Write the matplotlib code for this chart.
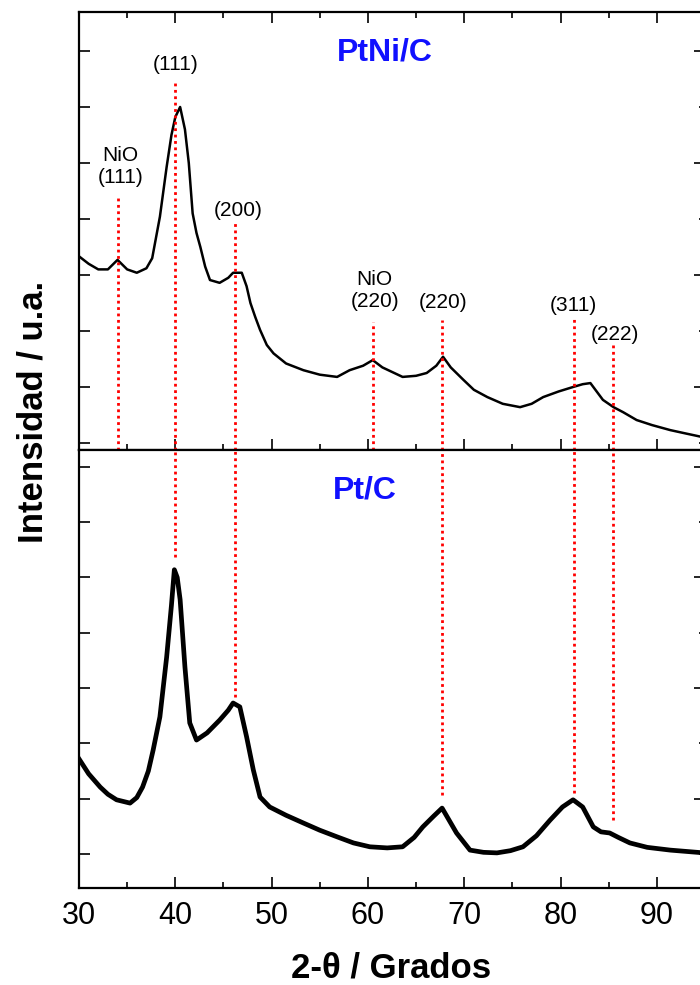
import matplotlib
matplotlib.use("Agg")
import matplotlib.pyplot as plt
from matplotlib.ticker import MultipleLocator, FixedLocator

plt.rcParams['font.family'] = ['Liberation Sans', 'DejaVu Sans']

# ---------------- data ----------------
two_theta_ptni = [30.1, 31.0, 32.0, 33.0, 34.0, 35.0, 36.0, 37.0, 37.6, 38.4, 39.1, 39.6,
                  40.0, 40.5, 41.0, 41.4, 41.8, 42.2, 42.6, 43.1, 43.6, 44.6, 45.5, 46.0,
                  46.9, 47.4, 47.8, 48.3, 48.8, 49.5, 50.2, 51.5, 53.3, 55.0, 56.8, 58.1,
                  59.5, 60.5, 61.5, 63.6, 65.0, 66.1, 67.1, 67.8, 68.6, 69.9, 71.0, 72.4,
                  74.0, 75.8, 77.0, 78.2, 79.8, 81.3, 82.3, 83.1, 84.4, 85.5, 86.5, 87.9,
                  89.5, 91.4, 93.0, 94.9]
int_ptni = [3.32, 3.20, 3.10, 3.10, 3.27, 3.10, 3.04, 3.12, 3.30, 4.04, 4.93, 5.50,
            5.82, 6.00, 5.60, 5.00, 4.10, 3.75, 3.50, 3.15, 2.91, 2.86, 2.95, 3.04,
            3.04, 2.80, 2.50, 2.25, 2.02, 1.75, 1.60, 1.42, 1.30, 1.22, 1.18, 1.30,
            1.38, 1.48, 1.35, 1.18, 1.20, 1.25, 1.38, 1.54, 1.35, 1.13, 0.95, 0.82,
            0.70, 0.64, 0.70, 0.82, 0.92, 1.00, 1.05, 1.07, 0.77, 0.64, 0.55, 0.41,
            0.32, 0.23, 0.17, 0.10]

two_theta_pt = [30.0, 31.0, 32.2, 33.0, 33.9, 35.3, 36.0, 36.6, 37.2, 37.7, 38.4, 39.1,
                39.6, 39.9, 40.2, 40.5, 41.0, 41.5, 42.2, 43.3, 44.6, 45.5, 46.0, 46.7,
                47.4, 48.1, 48.8, 49.8, 51.5, 53.3, 55.0, 56.8, 58.5, 60.2, 62.0, 63.6,
                64.8, 65.7, 66.8, 67.7, 68.4, 69.2, 70.6, 72.0, 73.4, 74.8, 76.1, 77.5,
                78.9, 80.2, 81.3, 82.3, 83.4, 84.2, 85.1, 86.0, 87.2, 89.0, 91.4, 94.9]
int_pt = [1.72, 1.45, 1.21, 1.08, 0.98, 0.92, 1.02, 1.21, 1.50, 1.88, 2.48, 3.56,
          4.50, 5.14, 5.00, 4.60, 3.38, 2.37, 2.06, 2.19, 2.42, 2.60, 2.73, 2.66,
          2.12, 1.52, 1.03, 0.85, 0.70, 0.56, 0.43, 0.31, 0.20, 0.13, 0.11, 0.13,
          0.30, 0.49, 0.68, 0.83, 0.62, 0.38, 0.07, 0.03, 0.02, 0.06, 0.13, 0.33,
          0.61, 0.85, 0.98, 0.85, 0.49, 0.40, 0.38, 0.30, 0.20, 0.12, 0.07, 0.02]

# reference peak markers
peak_pos = [34.0, 40.0, 46.2, 60.5, 67.7, 81.4, 85.4]
peak_labels = ["NiO\n(111)", "(111)", "(200)", "NiO\n(220)", "(220)", "(311)", "(222)"]
label_x = [34.3, 40.0, 46.5, 60.7, 67.8, 81.3, 85.7]
label_y = [4.93, 6.75, 4.16, 2.73, 2.50, 2.46, 1.93]
line_top_start = [4.39, 6.45, 3.95, 2.16, 2.20, 2.23, 1.75]
bottom_pos = [40.0, 46.2, 67.7, 81.4, 85.4]
bottom_end = [5.37, 2.84, 1.07, 1.10, 0.61]

x_ticks = [30, 40, 50, 60, 70, 80, 90]
# ---------------------------------------------------------------

W, H = 700, 985
fig = plt.figure(figsize=(W / 100, H / 100), dpi=100)

left = 79 / W
width = 626 / W
ax_top = fig.add_axes([left, (H - 450) / H, width, 438 / H])
ax_bot = fig.add_axes([left, (H - 888) / H, width, 438 / H])

red = '#ff0000'
blue = '#1010ff'

for ax in (ax_top, ax_bot):
    ax.set_xlim(30, 95)
    ax.xaxis.set_major_locator(FixedLocator(x_ticks))
    ax.xaxis.set_minor_locator(MultipleLocator(5))
    for s in ax.spines.values():
        s.set_linewidth(1.6)
    ax.tick_params(axis='y', which='both', left=True, right=False, direction='in',
                   labelleft=False, length=8, width=1.2)
    ax.set_yticks([1, 3, 5, 7])
    ax.set_yticks([0, 2, 4, 6], minor=True)
    sec = ax.secondary_yaxis('right')
    sec.set_yticks([1, 3, 5, 7])
    sec.set_yticks([0, 2, 4, 6], minor=True)
    sec.tick_params(axis='y', which='major', direction='in', length=8, width=1.2, labelright=False)
    sec.tick_params(axis='y', which='minor', direction='in', length=4, width=1.2, labelright=False)
    sec.spines['right'].set_linewidth(1.6)

ax_top.set_ylim(-0.125, 7.696)
ax_bot.set_ylim(-0.615, 7.305)

ax_top.tick_params(axis='x', which='major', direction='in', top=True, bottom=True,
                   length=8, width=1.2, labelbottom=False)
ax_top.tick_params(axis='x', which='minor', direction='in', top=True, bottom=True,
                   length=4, width=1.2)
ax_bot.tick_params(axis='x', which='major', direction='in', top=False, bottom=True,
                   length=8, width=1.2, labelsize=22, pad=9)
ax_bot.tick_params(axis='x', which='minor', direction='in', top=False, bottom=True,
                   length=4, width=1.2)

# curves
ax_top.plot(two_theta_ptni, int_ptni, color='black', lw=1.8, zorder=3)
ax_bot.plot(two_theta_pt, int_pt, color='black', lw=3.4, zorder=3)

# dotted reference lines
ylim_top = ax_top.get_ylim()
for xp, ys in zip(peak_pos, line_top_start):
    ax_top.plot([xp, xp], [ylim_top[0], ys], color=red, lw=2.0,
                dashes=(1.0, 1.3), zorder=4, clip_on=True)
ylim_bot = ax_bot.get_ylim()
for xp, ye in zip(bottom_pos, bottom_end):
    ax_bot.plot([xp, xp], [ye, ylim_bot[1]], color=red, lw=2.0,
                dashes=(1.0, 1.3), zorder=4, clip_on=True)

# peak labels
for lab, lx, ly in zip(peak_labels, label_x, label_y):
    ax_top.text(lx, ly, lab, ha='center', va='center', fontsize=15,
                linespacing=1.2, color='black')

# panel titles
ax_top.text(61.8, 6.98, "PtNi/C", ha='center', va='center', fontsize=23,
            fontweight='bold', color=blue)
ax_bot.text(59.7, 6.58, "Pt/C", ha='center', va='center', fontsize=23,
            fontweight='bold', color=blue)

# axis labels
fig.text(391 / W, (H - 968) / H, "2-θ / Grados", ha='center', va='center',
         fontsize=25, fontweight='bold')
fig.text(33 / W, (H - 412) / H, "Intensidad / u.a.", ha='center', va='center',
         fontsize=25, fontweight='bold', rotation=90)

fig.savefig("out.png", dpi=100)
